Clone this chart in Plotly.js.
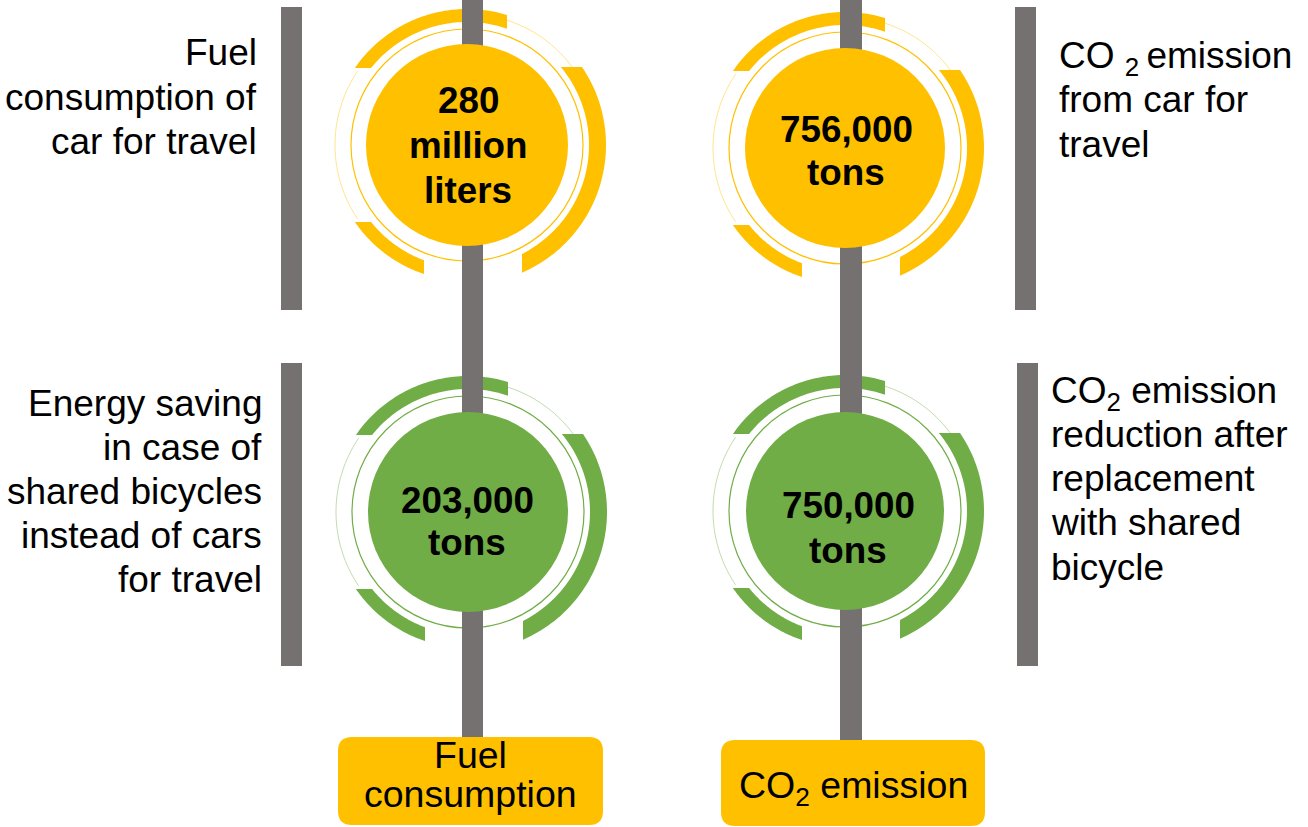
<!DOCTYPE html>
<html><head><meta charset="utf-8">
<script src="https://cdn.plot.ly/plotly-3.0.1.min.js"></script>
<style>html,body{margin:0;padding:0;background:#fff;overflow:hidden}#chart{width:1308px;height:827px}</style>
</head><body><div id="chart"></div>
<script>
// ---- content ----
const categories = ["Fuel consumption", "CO2 emission"];
const categoryLines = [["Fuel", "consumption"], ["CO<sub>2</sub> emission"]];
const valueLines = [
  ["280", "million", "liters"],
  ["756,000", "tons"],
  ["203,000", "tons"],
  ["750,000", "tons"]
];
const descLines = [
  ["Fuel", "consumption of", "car for travel"],
  ["CO <sub>2 </sub>emission", "from car for", "travel"],
  ["Energy saving", "in case of", "shared bicycles", "instead of cars", "for travel"],
  ["CO<sub>2</sub> emission", "reduction after", "replacement", "with shared", "bicycle"]
];

// ---- styling / layout ----
const YELLOW = "#FFC000", GREEN = "#70AD47", GRAY = "#767171";
const FONT = "Liberation Sans, Arial, sans-serif";
const nodeLayout = [
  {cx: 467, cy: 145, r: 101, color: YELLOW, vx: 468, vBase: [113, 158, 203], dx: 257, dAnchor: "right", dBase: [65, 110, 154], bar: [281, 302, 7, 310]},
  {cx: 845, cy: 148, r: 100, color: YELLOW, vx: 846, vBase: [142, 185], dx: 1059, dAnchor: "left", dBase: [68, 112, 157], bar: [1015, 1036, 7, 310]},
  {cx: 468, cy: 512, r: 100, color: GREEN, vx: 467, vBase: [513, 555], dx: 262, dAnchor: "right", dBase: [416, 460, 504, 548, 592], bar: [281, 302, 363, 666]},
  {cx: 845, cy: 511, r: 99, color: GREEN, vx: 848, vBase: [518, 563], dx: 1051, dAnchor: "left", dBase: [403, 447, 491, 535, 580], bar: [1017, 1038, 363, 666]}
];
const poles = [[462, 483, 0, 737], [840, 862, 0, 741]];
const boxes = [
  {x0: 338, x1: 603, y0: 737, y1: 825, tx: 470, base: [768, 807]},
  {x0: 721, x1: 985, y0: 740, y1: 826, tx: 853, base: [798]}
];
// arc segments: ends given as straight cuts (h = horizontal cut at dy, v = vertical cut at dx)
const arcSpecs = [
  {a: {v: 40}, b: {h: -77, left: true}, rIn: 123, rOut: 136},
  {a: {v: 55, lower: true}, b: {h: -78}, rIn: 122, rOut: 139},
  {a: {h: 77, left: true}, b: {v: -43, lower: true}, rIn: 123, rOut: 136}
];
const faintArcs = [[34, 73, 131], [146, 214, 132]];

function angleFor(r, cut) {
  if (cut.h !== undefined) {
    const a = Math.asin(Math.max(-1, Math.min(1, -cut.h / r)));
    return cut.left ? Math.PI - a : a;
  }
  const a = Math.acos(Math.max(-1, Math.min(1, cut.v / r)));
  return cut.lower ? -a : a;
}
function norm(a0, a1) { while (a1 < a0) a1 += 2 * Math.PI; return a1; }
function pt(cx, cy, r, a) { return (cx + r * Math.cos(a)).toFixed(2) + "," + (cy - r * Math.sin(a)).toFixed(2); }

function arcPath(n, s) {
  const oa0 = angleFor(s.rOut, s.a), oa1 = norm(oa0, angleFor(s.rOut, s.b));
  const ia0 = angleFor(s.rIn, s.a), ia1 = norm(ia0, angleFor(s.rIn, s.b));
  const N = 60, p = [];
  for (let i = 0; i <= N; i++) p.push(pt(n.cx, n.cy, s.rOut, oa0 + (oa1 - oa0) * i / N));
  for (let i = N; i >= 0; i--) p.push(pt(n.cx, n.cy, s.rIn, ia0 + (ia1 - ia0) * i / N));
  return "M" + p.join("L") + "Z";
}
function linePath(n, d0, d1, r) {
  const p = [], N = 40;
  for (let i = 0; i <= N; i++) p.push(pt(n.cx, n.cy, r, (d0 + (d1 - d0) * i / N) * Math.PI / 180));
  return "M" + p.join("L");
}
function roundRect(b, rad) {
  const {x0, x1, y0, y1} = b;
  return `M${x0 + rad},${y0} L${x1 - rad},${y0} Q${x1},${y0} ${x1},${y0 + rad} L${x1},${y1 - rad} Q${x1},${y1} ${x1 - rad},${y1} L${x0 + rad},${y1} Q${x0},${y1} ${x0},${y1 - rad} L${x0},${y0 + rad} Q${x0},${y0} ${x0 + rad},${y0} Z`;
}
function hexA(hex, a) {
  const v = parseInt(hex.slice(1), 16);
  return `rgba(${v >> 16},${(v >> 8) & 255},${v & 255},${a})`;
}

const shapes = [];
const annotations = [];
const base = {xref: "x", yref: "y", layer: "above"};

// rings and arcs
nodeLayout.forEach(n => {
  faintArcs.forEach(f => shapes.push({...base, type: "path", path: linePath(n, f[0], f[1], f[2]), line: {color: hexA(n.color, 0.55), width: 0.8}, fillcolor: "rgba(0,0,0,0)"}));
  shapes.push({...base, type: "circle", x0: n.cx - 116, x1: n.cx + 116, y0: n.cy - 116, y1: n.cy + 116, line: {color: n.color, width: 1.2}, fillcolor: "rgba(0,0,0,0)"});
  arcSpecs.forEach(s => shapes.push({...base, type: "path", path: arcPath(n, s), fillcolor: n.color, line: {width: 0}}));
});
// poles
poles.forEach(p => shapes.push({...base, type: "rect", x0: p[0], x1: p[1], y0: p[2], y1: p[3], fillcolor: GRAY, line: {width: 0}}));
// filled circles and side bars
nodeLayout.forEach(n => {
  shapes.push({...base, type: "circle", x0: n.cx - n.r, x1: n.cx + n.r, y0: n.cy - n.r, y1: n.cy + n.r, fillcolor: n.color, line: {width: 0}});
  shapes.push({...base, type: "rect", x0: n.bar[0], x1: n.bar[1], y0: n.bar[2], y1: n.bar[3], fillcolor: GRAY, line: {width: 0}});
});
// boxes
boxes.forEach(b => shapes.push({...base, type: "path", path: roundRect(b, 14), fillcolor: YELLOW, line: {width: 0}}));

// text
function addLine(text, x, baseline, xanchor, size, bold) {
  annotations.push({
    xref: "x", yref: "y", x: x, y: baseline - 0.905 * size, xanchor: xanchor, yanchor: "top",
    text: bold ? "<b>" + text + "</b>" : text, showarrow: false, borderpad: 0, borderwidth: 0,
    font: {family: FONT, size: size, color: "#000000"}
  });
}
nodeLayout.forEach((n, i) => {
  valueLines[i].forEach((t, j) => addLine(t, n.vx, n.vBase[j], "center", 36.8, true));
  descLines[i].forEach((t, j) => addLine(t, n.dx, n.dBase[j], n.dAnchor, 37, false));
});
boxes.forEach((b, i) => categoryLines[i].forEach((t, j) => addLine(t, b.tx, b.base[j], "center", 37.5, false)));

const layout = {
  width: 1308, height: 827,
  margin: {l: 0, r: 0, t: 0, b: 0, pad: 0},
  paper_bgcolor: "#ffffff", plot_bgcolor: "#ffffff",
  showlegend: false,
  xaxis: {range: [0, 1308], visible: false, fixedrange: true},
  yaxis: {range: [827, 0], visible: false, fixedrange: true},
  shapes: shapes,
  annotations: annotations
};
Plotly.newPlot("chart", [{x: [], y: [], type: "scatter", mode: "markers", hoverinfo: "skip"}], layout, {staticPlot: true, displayModeBar: false});
</script>
</body></html>
